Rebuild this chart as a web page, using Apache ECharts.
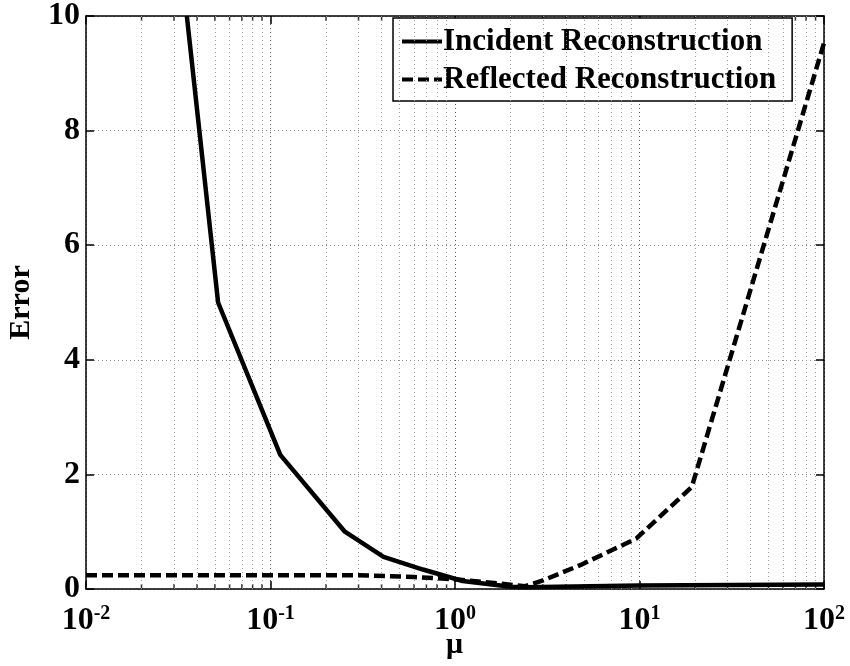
<!DOCTYPE html>
<html>
<head>
<meta charset="utf-8">
<script src="https://cdn.jsdelivr.net/npm/echarts@6/dist/echarts.min.js"></script>
<style>html,body{margin:0;padding:0;background:#fff}#c{width:850px;height:666px}</style>
</head>
<body>
<div id="c"></div>
<script>
// Data
var incidentMu    = [0.0352, 0.052, 0.113, 0.253, 0.41, 0.67, 1.1, 2.0, 2.4, 10, 100];
var incidentErr   = [10.0,   5.0,   2.34,  1.0,   0.56, 0.34, 0.14, 0.04, 0.03, 0.06, 0.08];
var reflectedMu   = [0.01, 0.3,  0.6,  1.0,  2.4,  3.0,  4.8,  9.6,  19.2, 100];
var reflectedErr  = [0.24, 0.24, 0.21, 0.17, 0.05, 0.15, 0.42, 0.88, 1.78, 9.53];
var seriesNames   = ['Incident Reconstruction', 'Reflected Reconstruction'];
var yTicks        = [0, 2, 4, 6, 8, 10];
var xAxisName     = 'μ';
var minorMu       = [];
[0.01, 0.1, 1, 10].forEach(function (d) { for (var k = 2; k <= 9; k++) minorMu.push(+(d * k).toPrecision(3)); });

function pairs(xs, ys) { return xs.map(function (x, i) { return [x, ys[i]]; }); }

var FONT = '"Liberation Serif", "Times New Roman", serif';
var chart = echarts.init(document.getElementById('c'));
chart.setOption({
  animation: false,
  backgroundColor: '#fff',
  textStyle: { fontFamily: FONT },
  title: {
    text: xAxisName, left: 446, top: 630, padding: 0,
    textStyle: { fontFamily: FONT, fontSize: 30, fontWeight: 'bold', color: '#000' }
  },
  grid: { left: 86, right: 26, top: 16, bottom: 77, containLabel: false, outerBoundsMode: 'none' },
  legend: {
    data: seriesNames,
    orient: 'vertical',
    left: 393, top: 18,
    padding: [8, 16, 6, 7],
    itemGap: 7,
    itemWidth: 40, itemHeight: 14,
    backgroundColor: '#fff',
    borderColor: '#000', borderWidth: 1.5, borderRadius: 0,
    itemStyle: { color: 'rgba(0,0,0,0)', borderColor: 'rgba(0,0,0,0)', borderWidth: 0 },
    lineStyle: { width: 4 },
    textStyle: { fontFamily: FONT, fontSize: 31, fontWeight: 'bold', color: '#000', padding: [0, 0, 0, -4] }
  },
  xAxis: [{
    type: 'log', logBase: 10, min: 0.01, max: 100,
    axisLine: { show: true, onZero: false, lineStyle: { color: '#000', width: 1.5 } },
    axisTick: { show: true, inside: true, length: 8, lineStyle: { color: '#000', width: 1.5 } },
    axisLabel: {
      margin: 15,
      formatter: function (v) { return '{b|10}{s|' + Math.round(Math.log10(v)) + '}'; },
      rich: {
        b: { fontFamily: FONT, fontSize: 32, fontWeight: 'bold', color: '#000' },
        s: { fontFamily: FONT, fontSize: 20, fontWeight: 'bold', color: '#000', verticalAlign: 'top', padding: [0, 0, 14, 0] }
      }
    },
    splitLine: { show: true, lineStyle: { color: '#555', type: [1, 3], width: 1 } }
  }, {
    type: 'log', logBase: 10, min: 0.01, max: 100, position: 'top',
    axisLine: { show: true, onZero: false, lineStyle: { color: '#000', width: 1.5 } },
    axisTick: { show: true, inside: true, length: 8, lineStyle: { color: '#000', width: 1.5 } },
    axisLabel: { show: false }, splitLine: { show: false }
  }],
  yAxis: [{
    type: 'value', min: 0, max: 10, interval: 2,
    name: 'Error', nameLocation: 'middle', nameGap: 50, nameRotate: 90,
    nameTextStyle: { fontFamily: FONT, fontSize: 30, fontWeight: 'bold', color: '#000' },
    axisLine: { show: true, onZero: false, lineStyle: { color: '#000', width: 1.5 } },
    axisTick: { show: true, inside: true, length: 8, lineStyle: { color: '#000', width: 1.5 } },
    axisLabel: { margin: 6, fontFamily: FONT, fontSize: 32, fontWeight: 'bold', color: '#000',
      formatter: function (v) { return yTicks.indexOf(v) >= 0 ? String(v) : ''; } },
    splitLine: { show: true, lineStyle: { color: '#888', type: [1, 3], width: 1 } }
  }, {
    type: 'value', min: 0, max: 10, interval: 2, position: 'right',
    axisLine: { show: true, onZero: false, lineStyle: { color: '#000', width: 1.5 } },
    axisTick: { show: true, inside: true, length: 8, lineStyle: { color: '#000', width: 1.5 } },
    axisLabel: { show: false }, splitLine: { show: false }
  }],
  series: [{
    name: 'minorGrid', type: 'line', data: [], silent: true, z: 1,
    markLine: {
      silent: true, symbol: 'none', label: { show: false }, animation: false,
      lineStyle: { color: '#999', type: [1, 3], width: 1 },
      data: minorMu.map(function (m) { return { xAxis: m }; })
    }
  }, {
    name: 'minorTicksBottom', type: 'scatter', silent: true, z: 3,
    symbol: 'rect', symbolSize: [1.5, 5], symbolOffset: [0, -2.5],
    itemStyle: { color: '#000' },
    data: minorMu.map(function (m) { return [m, 0]; })
  }, {
    name: 'minorTicksTop', type: 'scatter', silent: true, z: 3,
    symbol: 'rect', symbolSize: [1.5, 5], symbolOffset: [0, 2.5],
    itemStyle: { color: '#000' },
    data: minorMu.map(function (m) { return [m, 10]; })
  }, {
    name: seriesNames[0], type: 'line', showSymbol: false, symbol: 'none', z: 5,
    data: pairs(incidentMu, incidentErr),
    lineStyle: { color: '#000', width: 4.5, type: 'solid' },
    itemStyle: { color: '#000' }
  }, {
    name: seriesNames[1], type: 'line', showSymbol: false, symbol: 'none', z: 6,
    data: pairs(reflectedMu, reflectedErr),
    lineStyle: { color: '#000', width: 4.5, type: [11, 5] },
    itemStyle: { color: '#000' }
  }]
});
</script>
</body>
</html>
